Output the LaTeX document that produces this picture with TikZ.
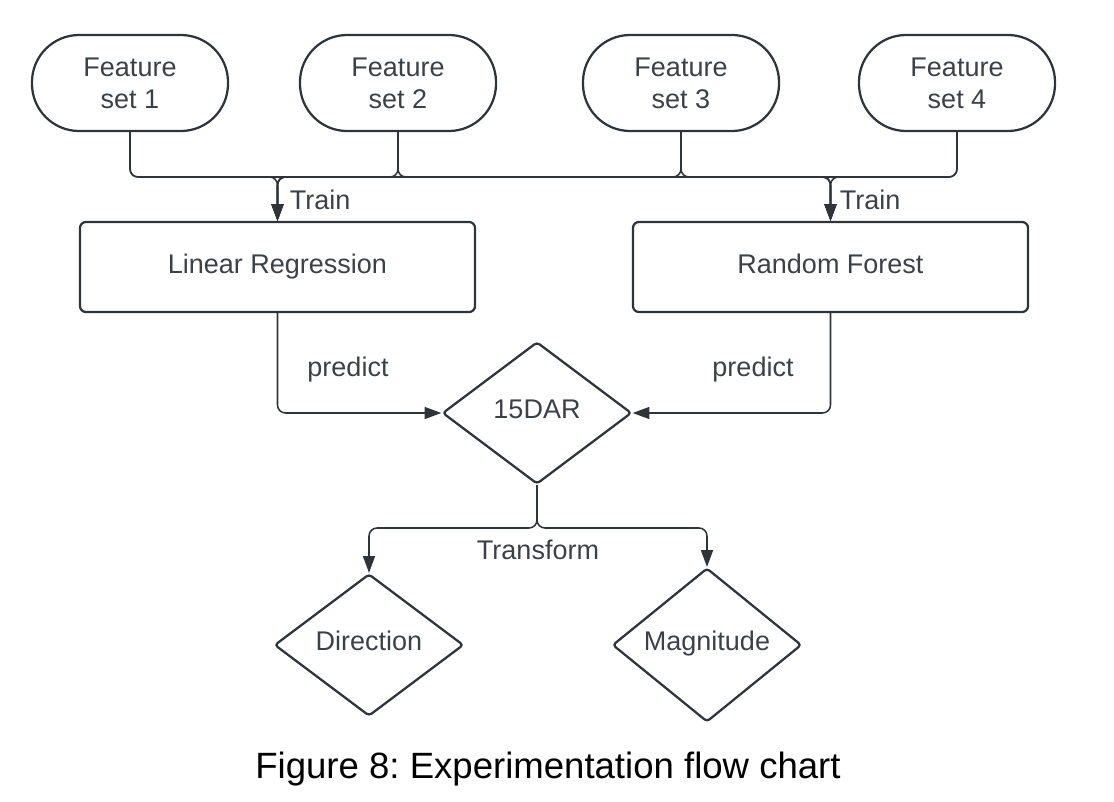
\documentclass[tikz,border=0pt]{standalone}
\usepackage{fontspec}
\setmainfont{Liberation Sans}
\usetikzlibrary{shapes.geometric,arrows.meta}
\definecolor{edgegray}{HTML}{2F343A}
\definecolor{textgray}{HTML}{3B4148}
\frenchspacing

\begin{document}
\begin{tikzpicture}[x=0.025cm,y=-0.025cm,
  every node/.style={font=\fontsize{19.2}{22.7}\selectfont, text=textgray},
  feat/.style={draw=edgegray, line width=1.6pt, rounded corners=1.18cm,
    minimum width=4.9cm, minimum height=2.4cm, inner sep=0pt, align=center},
  model/.style={draw=edgegray, line width=1.6pt, rounded corners=0.15cm,
    minimum width=9.875cm, minimum height=2.25cm, inner sep=0pt,
    text height=13.7pt, text depth=4pt},
  decision/.style={diamond, draw=edgegray, line width=1.6pt, rounded corners=0.08cm,
    minimum width=4.725cm, minimum height=3.55cm, inner sep=0pt,
    text height=13.7pt, text depth=6pt},
  conn/.style={draw=edgegray, line width=1.1pt, rounded corners=0.2cm,
    -{Triangle[length=0.42cm,width=0.3cm]}}]
  \useasboundingbox (0,0) rectangle (1114,802);

  \node[feat] (fs1) at (130,83) {Feature\\set 1};
  \node[feat] (fs2) at (398,83) {Feature\\set 2};
  \node[feat] (fs3) at (681,83) {Feature\\set 3};
  \node[feat] (fs4) at (957,83) {Feature\\set 4};

  \node[model] (lr) at (277.5,267) {Linear Regression};
  \node[model] (rf) at (830.5,267) {Random Forest};

  \node[decision] (dar) at (537,413) {15DAR};

  \node[decision] (dir) at (369,645) {Direction};
  \node[decision] (mag) at (707,645) {Magnitude};

  \coordinate (bus) at (0,177);
  \coordinate (split) at (0,528);

  \draw[conn] (fs1.south) -- (fs1.south |- bus) -| (lr.north);
  \draw[conn] (fs2.south) -- (fs2.south |- bus) -| (lr.north);
  \draw[conn] (fs3.south) -- (fs3.south |- bus) -| (lr.north);
  \draw[conn] (fs4.south) -- (fs4.south |- bus) -| (lr.north);

  \draw[conn] (fs1.south) -- (fs1.south |- bus) -| (rf.north);
  \draw[conn] (fs2.south) -- (fs2.south |- bus) -| (rf.north);
  \draw[conn] (fs3.south) -- (fs3.south |- bus) -| (rf.north);
  \draw[conn] (fs4.south) -- (fs4.south |- bus) -| (rf.north);

  \node[anchor=west] (trainl) at (285,200) {Train};
  \node[anchor=west] (trainr) at (835,200) {Train};

  \draw[conn] (lr.south) |- (dar.west);
  \draw[conn] (rf.south) |- (dar.east);

  \node (predl) at (348,370) {predict};
  \node (predr) at (753,370) {predict};

  \draw[conn] (dar.south) -- (dar.south |- split) -| (dir.north);
  \draw[conn] (dar.south) -- (dar.south |- split) -| (mag.north);

  \node (transf) at (538,550) {Transform};

  \node[text=black, font=\fontsize{26}{31}\selectfont] (caption) at (548,769)
    {Figure 8: Experimentation flow chart};
\end{tikzpicture}
\end{document}
